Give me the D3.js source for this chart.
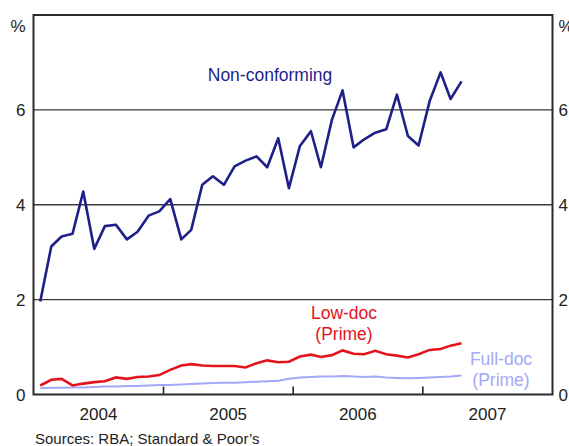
<!DOCTYPE html>
<html>
<head>
<meta charset="utf-8">
<script src="https://cdn.jsdelivr.net/npm/d3@7"></script>
<style>
  body { margin: 0; background: #fff; }
  svg { display: block; font-family: "Liberation Sans", Arial, sans-serif; }
</style>
</head>
<body>
<svg id="chart" width="569" height="446"></svg>
<script>
// monthly observations, Jan 2004 - Apr 2007
const months = d3.timeMonth.range(new Date(2004, 0, 1), new Date(2007, 4, 1));

const nonConforming = [
  1.96, 3.12, 3.33, 3.39, 4.28, 3.07, 3.55, 3.58, 3.27, 3.43,
  3.77, 3.86, 4.12, 3.27, 3.47, 4.42, 4.60, 4.42, 4.81, 4.93,
  5.02, 4.79, 5.40, 4.35, 5.24, 5.55, 4.79, 5.79, 6.41, 5.21,
  5.38, 5.52, 5.59, 6.32, 5.45, 5.25, 6.18, 6.79, 6.23, 6.60
];
const lowDoc = [
  0.19, 0.31, 0.33, 0.19, 0.23, 0.26, 0.28, 0.36, 0.33, 0.37,
  0.38, 0.41, 0.52, 0.61, 0.64, 0.61, 0.60, 0.60, 0.60, 0.57,
  0.66, 0.72, 0.68, 0.69, 0.80, 0.84, 0.79, 0.83, 0.93, 0.86,
  0.85, 0.92, 0.85, 0.82, 0.78, 0.85, 0.94, 0.96, 1.03, 1.08
];
const fullDoc = [
  0.13, 0.14, 0.14, 0.15, 0.15, 0.16, 0.17, 0.17, 0.18, 0.18,
  0.19, 0.20, 0.20, 0.21, 0.22, 0.23, 0.24, 0.25, 0.25, 0.26,
  0.27, 0.28, 0.29, 0.33, 0.36, 0.37, 0.38, 0.38, 0.39, 0.38,
  0.37, 0.38, 0.36, 0.35, 0.34, 0.35, 0.36, 0.37, 0.38, 0.40
];
const yTicks = [0, 2, 4, 6];
const yearLabels = [2004, 2005, 2006, 2007];

const svg = d3.select('#chart');
const plot = {left: 33.5, right: 552.5, top: 15, bottom: 394.5};

const x = d3.scaleTime()
  .domain([new Date(2004, 0, 1), new Date(2008, 0, 1)])
  .range([plot.left, plot.right]);
const y = d3.scaleLinear().domain([0, 8]).range([plot.bottom, plot.top]);

// gridlines
svg.append('g')
  .selectAll('line')
  .data(yTicks.filter(d => d > 0))
  .enter().append('line')
  .attr('x1', plot.left).attr('x2', plot.right)
  .attr('y1', d => y(d)).attr('y2', d => y(d))
  .attr('stroke', '#3a3a3a').attr('stroke-width', 1.4);

// year ticks on the bottom edge
svg.append('g')
  .selectAll('line')
  .data(yearLabels.slice(1))
  .enter().append('line')
  .attr('x1', d => x(new Date(d, 0, 1))).attr('x2', d => x(new Date(d, 0, 1)))
  .attr('y1', plot.bottom).attr('y2', plot.bottom - 8)
  .attr('stroke', '#222').attr('stroke-width', 1.6);

// frame
svg.append('rect')
  .attr('x', plot.left).attr('y', plot.top)
  .attr('width', plot.right - plot.left).attr('height', plot.bottom - plot.top)
  .attr('fill', 'none').attr('stroke', '#2a2a2a').attr('stroke-width', 2);

// y labels both sides
['left', 'right'].forEach(side => {
  const g = svg.append('g')
    .attr('font-size', 17).attr('fill', '#222')
    .attr('text-anchor', side === 'left' ? 'end' : 'start');
  const tx = side === 'left' ? plot.left - 8 : plot.right + 6;
  g.selectAll('text')
    .data(yTicks)
    .enter().append('text')
    .attr('x', tx).attr('y', d => y(d)).attr('dy', '0.36em')
    .text(d => d);
  g.append('text')
    .attr('x', tx).attr('y', y(8) + 11)
    .attr('dy', '0.36em')
    .text('%');
});

// year labels centred in each year
svg.append('g')
  .attr('font-size', 17).attr('fill', '#222').attr('text-anchor', 'middle')
  .selectAll('text')
  .data(yearLabels)
  .enter().append('text')
  .attr('x', d => x(new Date(d, 6, 2)))
  .attr('y', plot.bottom + 19).attr('dy', '0.36em')
  .text(d => d);

// lines
const line = d3.line()
  .x((d, i) => x(d3.timeDay.offset(months[i], 19)))
  .y(d => y(d));

svg.append('path').datum(fullDoc)
  .attr('d', line).attr('fill', 'none')
  .attr('stroke', '#a3a9f7').attr('stroke-width', 2);
svg.append('path').datum(lowDoc)
  .attr('d', line).attr('fill', 'none')
  .attr('stroke', '#e3141c').attr('stroke-width', 2.6);
svg.append('path').datum(nonConforming)
  .attr('d', line).attr('fill', 'none')
  .attr('stroke', '#1f1f8a').attr('stroke-width', 2.6)
  .attr('stroke-linejoin', 'round');

// series labels
const labels = [
  {lines: ['Non-conforming'], x: 270, y: 75, color: '#1f1f8a'},
  {lines: ['Low-doc', '(Prime)'], x: 344, y: 313, color: '#e3141c'},
  {lines: ['Full-doc', '(Prime)'], x: 501, y: 359, color: '#a3a9f7'}
];
labels.forEach(l => {
  const t = svg.append('text')
    .attr('font-size', 17.5).attr('fill', l.color).attr('text-anchor', 'middle');
  l.lines.forEach((s, i) => {
    t.append('tspan').attr('x', l.x).attr('y', l.y + i * 20.5).attr('dy', '0.36em').text(s);
  });
});

svg.append('text')
  .attr('x', 35).attr('y', 439).attr('dy', '0.36em')
  .attr('font-size', 15).attr('fill', '#222')
  .text('Sources: RBA; Standard & Poor\u2019s');
</script>
</body>
</html>
